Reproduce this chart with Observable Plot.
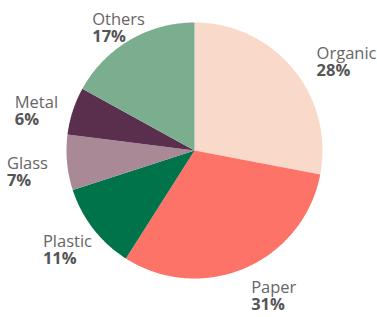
<!DOCTYPE html>
<html>
<head>
<meta charset="utf-8">
<script src="https://cdn.jsdelivr.net/npm/d3@7"></script>
<script src="https://cdn.jsdelivr.net/npm/@observablehq/plot@0.6"></script>
<style>
  html, body { margin: 0; padding: 0; background: #fff; }
  svg { display: block; }
</style>
</head>
<body>
<div id="chart"></div>
<script>
const categories = ["Organic", "Paper", "Plastic", "Glass", "Metal", "Others"];
const shares = [28, 31, 11, 7, 6, 17];
const colors = ["#f9d9ca", "#fe7367", "#00734a", "#a88995", "#5a2f4e", "#7bae8f"];

const arcs = d3.pie().sort(null).value(d => d)(shares);

// slice polygons (center + arc samples) in unit-radius coordinates
const slicePoints = [];
arcs.forEach((a, i) => {
  const name = categories[i];
  slicePoints.push({name, x: 0, y: 0});
  const n = Math.max(2, Math.ceil((a.endAngle - a.startAngle) / 0.01));
  for (let k = 0; k <= n; k++) {
    const t = a.startAngle + (a.endAngle - a.startAngle) * k / n;
    slicePoints.push({name, x: Math.sin(t), y: Math.cos(t)});
  }
});

// label anchor points (outside the pie, along each slice's mid-angle)
const labels = arcs.map((a, i) => {
  const m = (a.startAngle + a.endAngle) / 2;
  return {name: categories[i], pct: `${shares[i]}%`, x: 1.37 * Math.sin(m), y: 1.175 * Math.cos(m)};
});

const chart = Plot.plot({
  width: 377,
  height: 317,
  marginLeft: 66,
  marginRight: 55,
  marginTop: 22,
  marginBottom: 39,
  style: {fontFamily: "'Open Sans', sans-serif", background: "#fff"},
  x: {domain: [-1, 1], axis: null},
  y: {domain: [-1, 1], axis: null},
  color: {domain: categories, range: colors},
  marks: [
    Plot.line(slicePoints, {x: "x", y: "y", z: "name", fill: "name", stroke: "none", curve: "linear-closed"}),
    Plot.text(labels, {x: "x", y: "y", text: "name", textAnchor: "start", dx: -13, dy: 4, fontSize: 16.5, fill: "#666", lineAnchor: "bottom"}),
    Plot.text(labels, {x: "x", y: "y", text: "pct", textAnchor: "start", dx: -13, dy: 21, fontSize: 16.5, fontWeight: "bold", fill: "#555", lineAnchor: "bottom"})
  ]
});
document.getElementById("chart").appendChild(chart);
</script>
</body>
</html>
